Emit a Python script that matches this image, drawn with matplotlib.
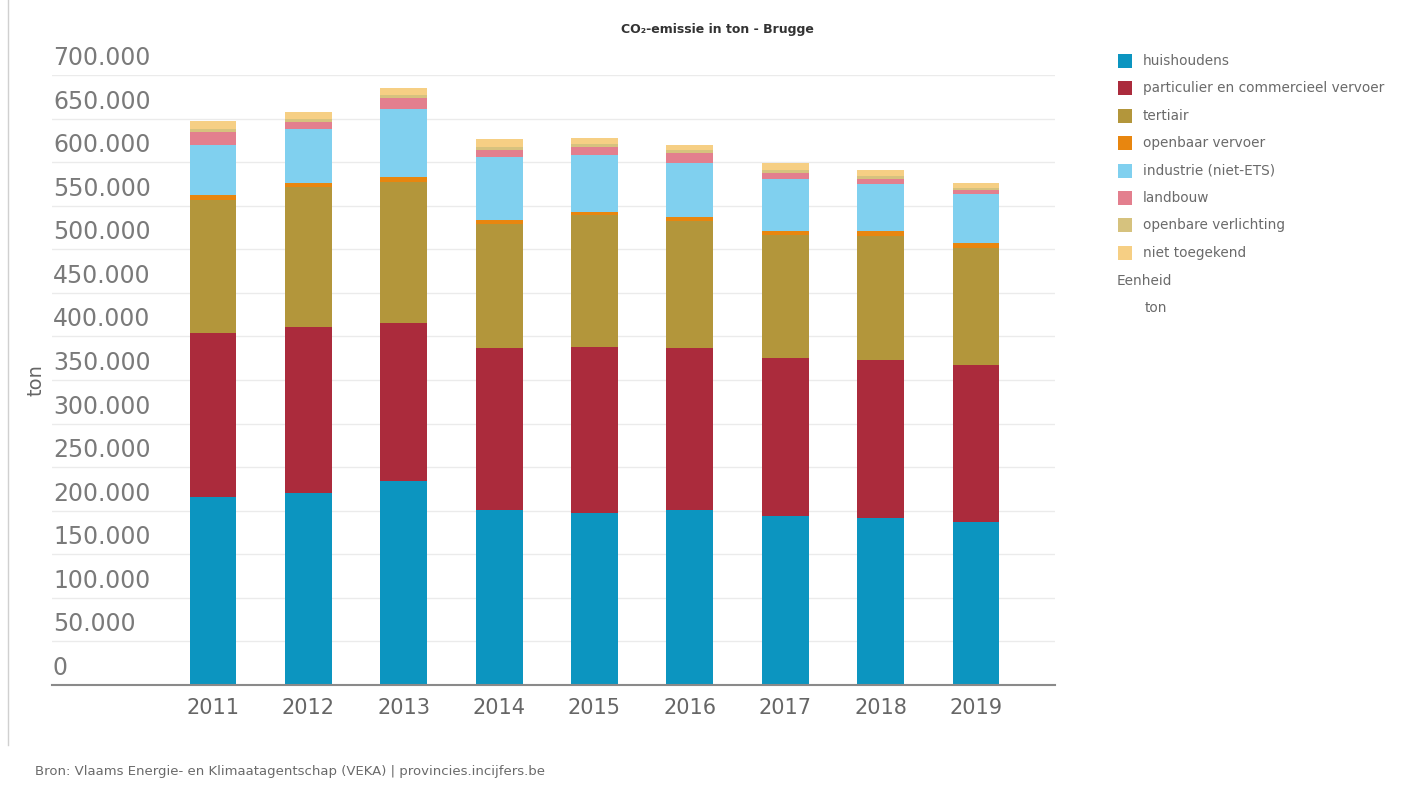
import matplotlib
matplotlib.use("Agg")
import matplotlib.pyplot as plt
import matplotlib.transforms as mtransforms
from matplotlib.patches import Rectangle
from matplotlib.lines import Line2D
import numpy as np

years = ["2011", "2012", "2013", "2014", "2015", "2016", "2017", "2018", "2019"]

huishoudens = [216000, 220000, 234000, 201000, 197000, 201000, 194000, 192000, 187000]
vervoer = [188000, 191000, 181000, 186000, 191000, 186000, 181000, 181000, 180000]
tertiair = [153000, 160000, 162000, 142000, 151000, 145000, 141000, 142000, 135000]
openbaar_vervoer = [5500, 5500, 6500, 4500, 4000, 4500, 5500, 6000, 5500]
industrie = [57500, 61000, 78000, 72500, 65500, 63000, 59500, 54000, 56000]
landbouw = [15000, 9000, 12500, 8000, 9000, 11000, 7000, 6000, 4500]
openbare_verlichting = [3500, 3500, 3500, 3500, 3000, 3000, 3000, 3000, 2500]
niet_toegekend = [9000, 8000, 7500, 8500, 7000, 6000, 8000, 7000, 5000]

series_names = ["huishoudens", "particulier en commercieel vervoer", "tertiair",
                "openbaar vervoer", "industrie (niet-ETS)", "landbouw",
                "openbare verlichting", "niet toegekend"]
series_values = [huishoudens, vervoer, tertiair, openbaar_vervoer, industrie,
                 landbouw, openbare_verlichting, niet_toegekend]
colors = ["#0c95c0", "#ab2b3c", "#b3963b", "#e8860f", "#80d0ef", "#e37f8e",
          "#d6c27e", "#f6cf84"]

yticks = [0, 50000, 100000, 150000, 200000, 250000, 300000, 350000,
          400000, 450000, 500000, 550000, 600000, 650000, 700000]

W, H = 1403, 796
fig = plt.figure(figsize=(W / 100, H / 100), dpi=100)
fig.patch.set_facecolor("white")

ax_left, ax_right, ax_top, ax_bottom = 52, 1055, 75, 685
ax = fig.add_axes([ax_left / W, 1 - ax_bottom / H, (ax_right - ax_left) / W,
                   (ax_bottom - ax_top) / H])

x = np.arange(len(years))
bottom = np.zeros(len(years))
for name, vals, c in zip(series_names, series_values, colors):
    ax.bar(x, vals, width=0.49, bottom=bottom, color=c, label=name, zorder=3,
           linewidth=0)
    bottom += np.array(vals)

ax.set_xlim(-1.69, 8.83)
ax.set_ylim(0, 700000)
ax.set_yticks(yticks)
ax.yaxis.grid(True, color="#ebebeb", linewidth=1, zorder=0)
ax.tick_params(axis="y", length=0, labelleft=False)
ax.set_xticks(x)
ax.set_xticklabels(years, fontsize=15, color="#666666")
ax.tick_params(axis="x", length=0, pad=9)
for s in ["top", "right", "left"]:
    ax.spines[s].set_visible(False)
ax.spines["bottom"].set_color("#8a8a8a")
ax.spines["bottom"].set_linewidth(1.5)
ax.spines["bottom"].set_zorder(4)

# y tick labels placed above the grid lines, inside the plot area
trans = mtransforms.blended_transform_factory(ax.transAxes, ax.transData)
trans_off = mtransforms.offset_copy(trans, fig=fig, x=1, y=17, units="dots")
for v in yticks:
    lab = "0" if v == 0 else f"{v:,}".replace(",", ".")
    ax.text(0, v, lab, transform=trans_off, ha="left", va="center",
            fontsize=17, color="#7a7a7a", zorder=5)

fig.text(36 / W, 1 - 380 / H, "ton", rotation=90, ha="center", va="center",
         fontsize=14, color="#666666")

fig.text(717 / W, 1 - 30 / H, "CO\u2082-emissie in ton - Brugge", ha="center",
         va="center", fontsize=9, fontweight="bold", color="#333333")

# legend
leg_x, leg_y0, step, sq = 1118, 61, 27.4, 14
for i, (name, c) in enumerate(zip(series_names, colors)):
    yc = leg_y0 + i * step
    fig.patches.append(Rectangle(((leg_x) / W, 1 - (yc + sq / 2) / H), sq / W,
                                 sq / H, transform=fig.transFigure,
                                 facecolor=c, edgecolor="none"))
    fig.text((leg_x + 25) / W, 1 - yc / H, name, ha="left", va="center",
             fontsize=9.8, color="#6a6a6a")
fig.text(1117 / W, 1 - 281 / H, "Eenheid", ha="left", va="center",
         fontsize=9.8, color="#6a6a6a")
fig.text(1145 / W, 1 - 308 / H, "ton", ha="left", va="center",
         fontsize=9.8, color="#6a6a6a")

fig.text(35 / W, 1 - 771 / H,
         "Bron: Vlaams Energie- en Klimaatagentschap (VEKA) | provincies.incijfers.be",
         ha="left", va="center", fontsize=9.5, color="#6a6a6a")

fig.lines.append(Line2D([8 / W, 8 / W], [1 - 0 / H, 1 - 745 / H],
                        transform=fig.transFigure, color="#d0d0d0",
                        linewidth=1))

fig.savefig("out.png", dpi=100, facecolor="white")
